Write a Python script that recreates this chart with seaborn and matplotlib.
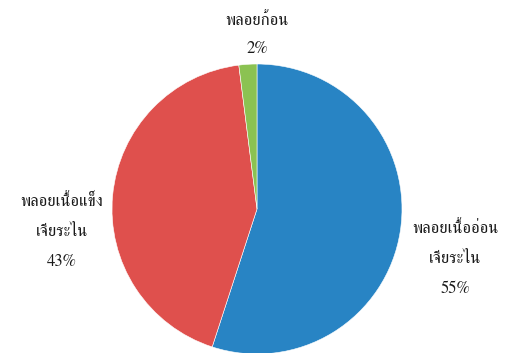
import matplotlib
matplotlib.use("Agg")
import matplotlib.pyplot as plt
import seaborn as sns

categories = ["พลอยเนื้ออ่อน\nเจียระไน", "พลอยเนื้อแข็ง\nเจียระไน", "พลอยก้อน"]
shares = [55, 43, 2]
colors = ["#2884c4", "#df504d", "#8bc252"]

sns.set_theme(style="white")
plt.rcParams["font.family"] = ["FreeSerif", "Liberation Serif", "DejaVu Sans"]

W, H = 513, 353
fig = plt.figure(figsize=(W / 100, H / 100), dpi=100)
cx, cy, r = 257, 209, 145
ax = fig.add_axes([(cx - r) / W, (H - cy - r) / H, 2 * r / W, 2 * r / H])
ax.pie(shares, colors=colors, startangle=90, counterclock=False, radius=1,
       wedgeprops=dict(edgecolor="white", linewidth=0.4))
ax.set_xlim(-1, 1)
ax.set_ylim(-1, 1)
ax.set_aspect("equal")
ax.axis("off")

# label anchor points (figure pixels, top-origin) and line spacing per slice
label_pos = [(455, 259), (62, 232), (257, 35)]
spacing = [2.2, 2.2, 1.95]
for name, val, (px, py), ls in zip(categories, shares, label_pos, spacing):
    fig.text(px / W, 1 - py / H, f"{name}\n{val}%", ha="center", va="center",
             fontsize=12, linespacing=ls, color="#1a1a1a")

fig.savefig("out.png", dpi=100)
